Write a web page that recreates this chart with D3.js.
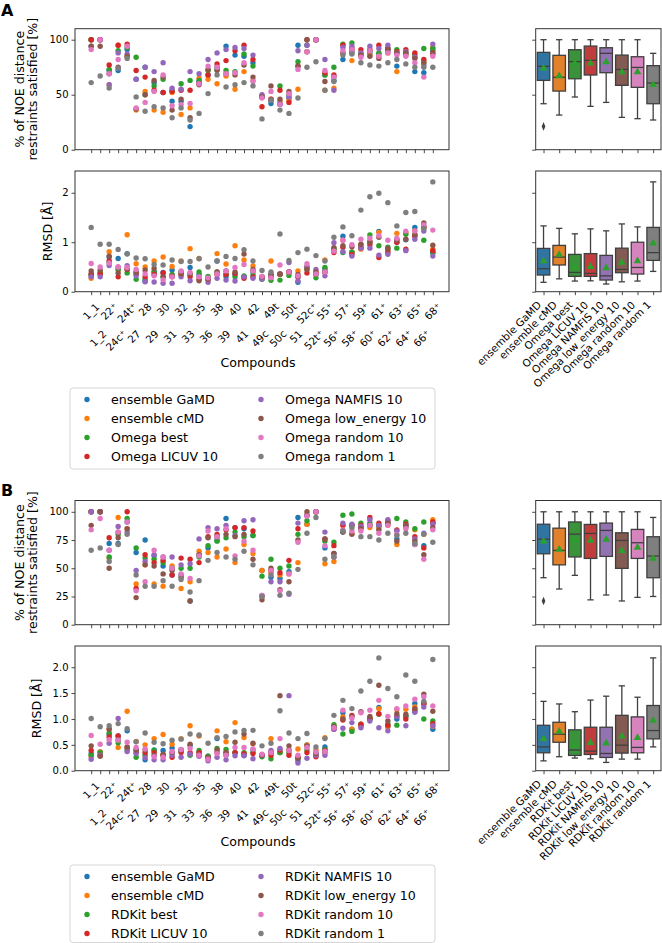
<!DOCTYPE html>
<html><head><meta charset="utf-8">
<script src="https://cdn.jsdelivr.net/npm/d3@7"></script>
<style>
body{margin:0;background:#fff}
svg text{font-family:"DejaVu Sans",sans-serif;fill:#000}
</style>
</head><body>
<svg id="c" width="662" height="943"></svg>
<script>
// ---------- categories ----------
const compounds = ["1_1","1_2","22⁺","24c⁺","24t⁺","27","28","29","30","31","32","33","35","36","38","39","40","41","42","49c","49t","50c","50t","51","52c⁺","52t⁺","55⁺","56⁺","57⁺","58⁺","59⁺","60⁺","61⁺","62⁺","63⁺","64⁺","65⁺","66⁺","68⁺"];
const methodsA = ["ensemble GaMD","ensemble cMD","Omega best","Omega LICUV 10","Omega NAMFIS 10","Omega low_energy 10","Omega random 10","Omega random 1"];
const methodsB = ["ensemble GaMD","ensemble cMD","RDKit best","RDKit LICUV 10","RDKit NAMFIS 10","RDKit low_energy 10","RDKit random 10","RDKit random 1"];
const pointColors = ["#1f77b4","#ff7f0e","#2ca02c","#d62728","#9467bd","#8c564b","#e377c2","#7f7f7f"];
const boxColors = ["#3274a1","#e1812c","#3a923a","#c03d3e","#9372b2","#845b53","#d684bd","#7f7f7f"];
const noeTicksA = [0,50,100];
const rmsdTicksA = [0,1,2];
const noeTicksB = [0,25,50,75,100];
const rmsdTicksB = [0,0.5,1.0,1.5,2.0];

// ---------- NOE satisfied [%] ----------
const noe_GaMD = [100,100,72,72,91,64,75,61,52,44,44,21,62,68,75,94,86,85,79,48,42,41,47,95,89,100,68,63,82,88,86,88,87,90,76,87,71,70,90];
const noe_cMD  = [100,100,59,95,85,36,53,36,34,52,32,38,65,64,60,67,55,71,63,48,46,44,45,55,89,100,54,56,88,81,86,86,85,88,71,86,84,80,93];
const noeA_best   = [100,100,73,90,93,84,50,58,64,54,60,63,63,72,73,72,71,87,76,49,45,58,50,80,95,100,68,75,96,97,88,90,88,92,91,88,86,92,92];
const noeA_LICUV  = [100,100,77,95,96,72,66,54,52,53,54,54,60,68,78,81,90,95,82,39,46,54,43,76,100,100,70,68,95,92,91,91,95,92,89,91,88,82,88];
const noeA_NAMFIS = [94,100,59,88,87,64,75,71,79,56,55,71,69,82,88,91,93,92,86,50,45,42,48,90,95,100,82,54,93,94,88,94,92,95,88,89,84,77,96];
const noeA_low    = [94,94,69,75,85,37,50,63,66,36,46,29,59,73,72,69,68,77,66,48,58,46,53,76,100,100,62,66,88,90,86,85,83,91,88,88,83,79,87];
const noeA_r10    = [91,100,69,82,94,38,43,53,68,40,41,42,60,76,75,69,70,79,62,47,53,41,51,73,89,100,72,66,90,91,84,90,85,88,86,85,79,66,85];
const noeA_r1     = [61,67,56,74,83,48,35,39,38,29,38,27,33,51,68,57,59,61,58,28,45,36,33,47,75,80,54,62,86,87,79,77,76,79,82,78,75,75,75];
const noeB_best   = [100,100,60,80,94,68,59,58,55,50,50,50,60,70,74,77,82,78,79,43,58,50,52,80,92,100,74,73,97,98,90,90,88,90,94,91,85,91,90];
const noeB_LICUV  = [100,100,77,82,100,32,62,55,57,44,59,58,55,78,80,84,86,86,83,25,48,46,57,85,97,100,76,70,88,88,88,95,90,92,84,89,78,68,91];
const noeB_NAMFIS = [100,100,66,87,82,48,56,62,60,60,53,54,76,86,85,88,79,92,93,26,38,38,27,90,97,100,82,60,90,89,87,93,88,93,83,88,76,81,89];
const noeB_low    = [88,100,50,77,85,24,53,52,45,48,42,21,62,77,78,80,78,80,58,22,50,31,38,75,100,100,76,63,82,80,85,88,84,90,74,88,74,62,86];
const noeB_r10    = [84,94,66,82,91,30,38,66,60,50,45,41,61,83,78,85,61,74,66,26,48,30,45,73,96,100,70,60,84,83,83,88,81,88,80,85,71,58,84];
const noeB_r1     = [66,68,56,71,80,44,34,34,39,34,40,29,39,57,64,60,58,65,53,25,44,26,28,49,81,95,58,60,83,86,78,78,75,81,79,81,72,80,73];

// ---------- RMSD [Å] ----------
const rmsd_GaMD = [0.33,0.36,0.70,0.67,0.77,0.40,0.21,0.40,0.39,0.44,0.40,0.49,0.35,0.28,0.62,0.30,0.35,0.30,0.40,0.30,0.35,0.35,0.40,0.19,0.50,0.35,0.46,0.85,1.12,0.80,0.88,1.01,1.22,0.85,1.00,1.05,1.30,1.30,0.80];
const rmsd_cMD  = [0.27,0.36,0.81,0.45,1.15,0.565,0.50,0.62,0.70,0.51,0.62,0.87,0.67,0.25,0.77,0.56,0.93,0.64,0.52,0.30,0.62,0.35,0.40,0.42,0.50,0.40,0.64,0.85,1.04,0.80,0.86,1.01,1.20,0.85,1.18,1.19,1.23,1.29,0.86];
const rmsdA_best   = [0.35,0.40,0.60,0.45,0.38,0.25,0.25,0.40,0.30,0.35,0.40,0.35,0.40,0.31,0.40,0.35,0.30,0.32,0.34,0.25,0.23,0.235,0.33,0.30,0.46,0.28,0.49,0.875,0.79,0.80,0.95,1.145,0.93,0.90,0.88,1.16,1.15,1.04,0.78];
const rmsdA_LICUV  = [0.36,0.36,0.62,0.30,0.45,0.35,0.30,0.35,0.38,0.30,0.35,0.30,0.25,0.25,0.35,0.35,0.37,0.27,0.30,0.28,0.30,0.36,0.40,0.30,0.38,0.36,0.40,0.79,0.90,0.755,0.90,0.95,0.69,0.80,1.00,0.86,1.12,1.32,0.83];
const rmsdA_NAMFIS = [0.30,0.30,0.53,0.50,0.525,0.32,0.20,0.195,0.17,0.17,0.30,0.22,0.30,0.19,0.27,0.235,0.215,0.30,0.27,0.255,0.30,0.36,0.59,0.215,0.50,0.45,0.32,0.99,0.81,0.72,0.88,0.88,0.74,0.755,1.05,0.83,1.06,1.225,0.72];
const rmsdA_low    = [0.42,0.44,0.72,0.38,0.46,0.39,0.44,0.47,0.30,0.32,0.36,0.36,0.22,0.25,0.40,0.42,0.40,0.76,0.45,0.30,0.35,0.36,0.40,0.35,0.45,0.40,0.40,0.89,0.93,0.91,0.96,1.00,1.10,0.875,1.05,1.06,1.15,1.39,0.94];
const rmsdA_r10    = [0.57,0.50,0.58,0.50,0.49,0.45,0.36,0.32,0.24,0.30,0.42,0.39,0.30,0.28,0.36,0.42,0.49,0.55,0.42,0.31,0.28,0.54,0.40,0.32,0.565,0.36,0.40,0.82,1.04,0.95,1.06,1.08,1.13,1.04,1.08,1.225,1.225,1.35,1.245];
const rmsdA_r1     = [1.30,0.96,0.96,0.855,0.76,0.68,0.667,0.55,0.54,0.64,0.61,0.61,0.667,0.50,0.62,0.714,0.67,0.85,0.62,0.43,0.40,1.165,0.63,0.79,0.86,0.73,0.62,1.10,1.31,1.13,1.65,1.92,1.99,1.80,1.33,1.60,1.62,1.28,2.22];
const rmsdB_best   = [0.30,0.35,0.73,0.54,0.40,0.26,0.30,0.39,0.30,0.35,0.38,0.30,0.39,0.28,0.43,0.41,0.35,0.35,0.35,0.27,0.23,0.35,0.35,0.25,0.40,0.30,0.41,0.89,0.71,0.76,0.90,1.00,1.09,0.90,0.88,1.05,1.15,1.00,0.96];
const rmsdB_LICUV  = [0.39,0.30,0.65,0.67,0.45,0.35,0.35,0.35,0.30,0.26,0.35,0.35,0.35,0.25,0.35,0.35,0.35,0.33,0.33,0.30,0.30,0.40,0.30,0.25,0.35,0.27,0.35,0.80,0.98,1.07,0.90,1.00,1.10,0.88,1.05,1.00,1.18,1.30,0.91];
const rmsdB_NAMFIS = [0.22,0.30,0.53,1.01,0.37,0.33,0.25,0.21,0.21,0.30,0.26,0.32,0.28,0.19,0.26,0.21,0.29,0.29,0.23,0.30,0.39,0.43,1.45,0.15,0.24,0.30,0.30,0.80,0.82,0.93,0.83,0.96,0.83,0.77,1.05,0.87,1.13,1.23,0.87];
const rmsdB_low    = [0.48,0.28,0.80,0.60,0.46,0.40,0.40,0.30,0.32,0.35,0.40,0.51,0.30,0.25,0.40,0.35,0.55,0.71,0.53,0.30,0.35,1.45,0.48,0.24,0.48,0.33,0.40,0.85,1.00,1.05,1.14,1.05,1.65,0.96,1.10,1.09,1.20,1.48,1.15];
const rmsdB_r10    = [0.68,0.51,0.60,0.59,0.55,0.45,0.42,0.27,0.26,0.37,0.41,0.43,0.30,0.22,0.33,0.30,0.45,0.45,0.42,0.32,0.35,0.62,0.39,0.30,0.45,0.36,0.37,0.83,1.17,1.02,1.12,1.17,1.36,1.05,1.20,1.25,1.38,1.43,1.25];
const rmsdB_r1     = [1.01,0.85,0.87,0.91,0.81,0.56,0.73,0.55,0.52,0.59,0.61,0.71,0.69,0.53,0.64,0.66,0.75,0.78,0.78,0.48,0.53,1.16,0.73,0.62,0.72,0.46,0.62,1.07,1.36,1.20,1.54,1.73,2.18,1.59,1.43,1.85,1.73,1.34,2.15];

// ---------- box statistics ----------
const boxNoeA_lo  = [41.8,31.5,47.9,39.4,43,29.4,28.2,27];
const boxNoeA_q1  = [63,53.3,64.5,67.9,70,58.5,56.7,41.8];
const boxNoeA_med = [75.8,65.8,80,81.2,87.6,73,74.8,60.6];
const boxNoeA_q3  = [88.5,85.8,90.9,94.2,92.7,86,84.5,76.4];
const boxNoeA_hi  = [100,100,100,100,100,100,100,87.6];
const boxNoeA_mean= [74,67,78.5,78.5,79.7,70.6,70.6,59];
const boxNoeA_out = [[21.2],[],[],[],[],[],[],[]];
const boxRmsdA_lo  = [0.19,0.26,0.215,0.22,0.155,0.2,0.215,0.41];
const boxRmsdA_q1  = [0.337,0.54,0.31,0.31,0.236,0.384,0.357,0.633];
const boxRmsdA_med = [0.465,0.70,0.39,0.37,0.32,0.45,0.49,0.79];
const boxRmsdA_q3  = [0.875,0.936,0.754,0.77,0.734,0.88,1.0,1.3];
const boxRmsdA_hi  = [1.33,1.28,1.17,1.27,1.23,1.37,1.31,2.22];
const boxRmsdA_mean= [0.62,0.75,0.5,0.505,0.478,0.59,0.62,0.98];
const boxNoeB_lo  = [41.6,31.6,43.7,22,26.3,21,24.2,25];
const boxNoeB_q1  = [62.8,53,60,58.7,60.5,49.9,58.7,41.6];
const boxNoeB_med = [75.8,65.8,80.2,80.8,83.5,74.6,72.6,60.8];
const boxNoeB_q3  = [89,85.5,91,88.8,90,81.4,84.4,77.9];
const boxNoeB_hi  = [100,100,100,100,100,100,100,95];
const boxNoeB_mean= [74,66.7,75,74.6,75.5,65.5,68.4,58.7];
const boxNoeB_out = [[21],[],[],[],[],[],[],[]];
const boxRmsdB_lo  = [0.19,0.27,0.244,0.23,0.16,0.224,0.224,0.46];
const boxRmsdB_q1  = [0.346,0.55,0.295,0.314,0.256,0.34,0.346,0.615];
const boxRmsdB_med = [0.46,0.705,0.40,0.378,0.333,0.494,0.45,0.776];
const boxRmsdB_q3  = [0.878,0.936,0.79,0.84,0.84,1.07,1.04,1.26];
const boxRmsdB_hi  = [1.34,1.29,1.14,1.365,1.44,1.64,1.42,2.18];
const boxRmsdB_mean= [0.615,0.756,0.5,0.54,0.53,0.667,0.635,0.968];

// ---------- drawing ----------
const svg = d3.select("#c");
const LINE = "#333";
const GRAYLINE = "#3f3f3f";
const SX = [75, 449];
const BX = [535.7, 661];
const x = d3.scaleLinear([-1.8, 39.8], SX);
const xb = d3.scaleBand(d3.range(8), BX);

function frame(g, x0, x1, y0, y1) {
  g.append("rect").attr("x", x0).attr("y", y0).attr("width", x1 - x0).attr("height", y1 - y0)
    .attr("fill", "none").attr("stroke", LINE).attr("stroke-width", 1);
}
function styleAxis(ax) {
  ax.select(".domain").remove();
  ax.selectAll(".tick line").attr("stroke", LINE).attr("stroke-width", 0.9);
  ax.selectAll(".tick text").attr("font-size", 10).attr("fill", "#000")
    .style("font-family", "DejaVu Sans, sans-serif");
}

function scatterPanel(y, ticks, fmt, series, showLabels, labelTop) {
  const [y1, y0] = y.range();
  const g = svg.append("g");
  const ay = g.append("g").attr("transform", `translate(${SX[0]},0)`)
    .call(d3.axisLeft(y).tickValues(ticks).tickFormat(fmt).tickSize(3.5).tickPadding(3));
  styleAxis(ay);
  const ax = g.append("g").attr("transform", `translate(0,${y1})`)
    .call(d3.axisBottom(x).tickValues(d3.range(compounds.length)).tickFormat("").tickSize(3.5));
  styleAxis(ax);
  series.forEach((vals, s) => {
    g.append("g").selectAll("circle").data(vals).join("circle")
      .attr("cx", (d, i) => x(i)).attr("cy", d => y(d)).attr("r", 2.7)
      .attr("fill", pointColors[s]);
  });
  frame(g, SX[0], SX[1], y0, y1);
  if (showLabels) {
    const lg = g.append("g");
    compounds.forEach((c, i) => {
      const odd = i % 2 === 1;
      const top = labelTop + (odd ? 27 : 0);
      const t = lg.append("text").attr("font-size", 10.3).attr("text-anchor", "middle").text(c);
      const L = t.node().getComputedTextLength();
      const h = 12;
      const half = (L + h) / (2 * Math.SQRT2);
      t.attr("transform", `translate(${x(i) - (odd ? 2 : 0)},${top + half}) rotate(-45)`).attr("dy", "0.35em");
    });
  }
  return g;
}

function boxPanel(y, ticks, st, labels, colorsB, labelY) {
  const [y1, y0] = y.range();
  const g = svg.append("g");
  const ay = g.append("g").attr("transform", `translate(${BX[0]},0)`)
    .call(d3.axisLeft(y).tickValues(ticks).tickFormat("").tickSize(3.5));
  styleAxis(ay);
  const ax = g.append("g").attr("transform", `translate(0,${y1})`)
    .call(d3.axisBottom(d3.scalePoint(d3.range(8), [xb(0) + xb.bandwidth()/2, xb(7) + xb.bandwidth()/2])).tickFormat("").tickSize(3.5));
  styleAxis(ax);
  const bw = xb.bandwidth() * 0.8;
  st.q1.forEach((q1, i) => {
    const cx = xb(i) + xb.bandwidth() / 2;
    const gg = g.append("g");
    gg.append("line").attr("x1", cx).attr("x2", cx).attr("y1", y(st.q3[i])).attr("y2", y(st.hi[i]))
      .attr("stroke", GRAYLINE).attr("stroke-width", 1.3);
    gg.append("line").attr("x1", cx).attr("x2", cx).attr("y1", y(q1)).attr("y2", y(st.lo[i]))
      .attr("stroke", GRAYLINE).attr("stroke-width", 1.3);
    [st.hi[i], st.lo[i]].forEach(v => gg.append("line")
      .attr("x1", cx - bw / 4).attr("x2", cx + bw / 4).attr("y1", y(v)).attr("y2", y(v))
      .attr("stroke", GRAYLINE).attr("stroke-width", 1.3));
    gg.append("rect").attr("x", cx - bw / 2).attr("width", bw)
      .attr("y", y(st.q3[i])).attr("height", y(q1) - y(st.q3[i]))
      .attr("fill", colorsB[i]).attr("stroke", GRAYLINE).attr("stroke-width", 1.3);
    gg.append("line").attr("x1", cx - bw / 2).attr("x2", cx + bw / 2)
      .attr("y1", y(st.med[i])).attr("y2", y(st.med[i])).attr("stroke", GRAYLINE).attr("stroke-width", 1.3);
    gg.append("path").attr("d", d3.symbol(d3.symbolTriangle, 26)())
      .attr("transform", `translate(${cx},${y(st.mean[i])})`).attr("fill", "#2ca02c");
    (st.out ? st.out[i] : []).forEach(v => {
      gg.append("path").attr("d", d3.symbol(d3.symbolDiamond, 18)())
        .attr("transform", `translate(${cx},${y(v)}) scale(0.8,1.1)`).attr("fill", GRAYLINE);
    });
  });
  frame(g, BX[0], BX[1], y0, y1);
  if (labels) {
    labels.forEach((lab, i) => {
      const cx = xb(i) + xb.bandwidth() / 2;
      g.append("text").attr("font-size", 10.4).attr("text-anchor", "end")
        .attr("transform", `translate(${cx - 1.5},${labelY}) rotate(-45)`).text(lab);
    });
  }
}

function legend(x0, y0, h, names) {
  const g = svg.append("g");
  g.append("rect").attr("x", x0).attr("y", y0).attr("width", 365).attr("height", h).attr("rx", 3)
    .attr("fill", "#fff").attr("stroke", "#d6d6d6").attr("stroke-width", 1);
  names.forEach((n, i) => {
    const col = Math.floor(i / 4), row = i % 4;
    const cx = x0 + 17 + col * 174, cy = y0 + 11.5 + row * 19;
    g.append("circle").attr("cx", cx).attr("cy", cy).attr("r", 2.7).attr("fill", pointColors[i]);
    g.append("text").attr("x", cx + 24).attr("y", cy).attr("dy", "0.36em").attr("font-size", 12.6).text(n);
  });
}

function ylabel(txt, cx, cy) {
  svg.append("text").attr("transform", `translate(${cx},${cy}) rotate(-90)`)
    .attr("text-anchor", "middle").attr("dy", "0.36em").attr("font-size", 12.6).text(txt);
}

function panel(letter, letterY, yNoe, noeTicks, yRmsd, rmsdTicks, rmsdFmt, noeSeries, rmsdSeries,
               boxNoe, boxRmsd, methods, legendY, legendH, rmsdLabelX) {
  svg.append("text").attr("x", 1).attr("y", letterY).attr("font-size", 16).attr("font-weight", "bold").text(letter);
  scatterPanel(yNoe, noeTicks, d3.format("d"), noeSeries, false);
  scatterPanel(yRmsd, rmsdTicks, rmsdFmt, rmsdSeries, true, yRmsd.range()[0] + 9);
  boxPanel(yNoe, noeTicks, boxNoe, null, boxColors);
  boxPanel(yRmsd, rmsdTicks, boxRmsd, methods, boxColors, yRmsd.range()[0] + 14);
  const nm = (yNoe.range()[0] + yNoe.range()[1]) / 2;
  ylabel("% of NOE distance", 19, nm);
  ylabel("restraints satisfied [%]", 32, nm);
  ylabel("RMSD [Å]", rmsdLabelX, (yRmsd.range()[0] + yRmsd.range()[1]) / 2);
  svg.append("text").attr("x", (SX[0] + SX[1]) / 2 - 4).attr("y", yRmsd.range()[0] + 70.5)
    .attr("text-anchor", "middle").attr("dy", "0.36em").attr("font-size", 12.6).text("Compounds");
  legend(70, legendY, legendH, methods);
}

// Panel A
const yNoeA = d3.scaleLinear([0, 110], [149.7, 28.7]);
const yRmsdA = d3.scaleLinear([0, 2.44], [291.7, 171]);
panel("A", 16, yNoeA, noeTicksA, yRmsdA, rmsdTicksA, d3.format("d"),
  [noe_GaMD, noe_cMD, noeA_best, noeA_LICUV, noeA_NAMFIS, noeA_low, noeA_r10, noeA_r1],
  [rmsd_GaMD, rmsd_cMD, rmsdA_best, rmsdA_LICUV, rmsdA_NAMFIS, rmsdA_low, rmsdA_r10, rmsdA_r1],
  {lo: boxNoeA_lo, q1: boxNoeA_q1, med: boxNoeA_med, q3: boxNoeA_q3, hi: boxNoeA_hi, mean: boxNoeA_mean, out: boxNoeA_out},
  {lo: boxRmsdA_lo, q1: boxRmsdA_q1, med: boxRmsdA_med, q3: boxRmsdA_q3, hi: boxRmsdA_hi, mean: boxRmsdA_mean},
  methodsA, 388, 81, 47);

// Panel B
const yNoeB = d3.scaleLinear([0, 110], [624.7, 500.5]);
const yRmsdB = d3.scaleLinear([0, 2.41], [770.7, 646]);
panel("B", 496, yNoeB, noeTicksB, yRmsdB, rmsdTicksB, d3.format(".1f"),
  [noe_GaMD, noe_cMD, noeB_best, noeB_LICUV, noeB_NAMFIS, noeB_low, noeB_r10, noeB_r1],
  [rmsd_GaMD, rmsd_cMD, rmsdB_best, rmsdB_LICUV, rmsdB_NAMFIS, rmsdB_low, rmsdB_r10, rmsdB_r1],
  {lo: boxNoeB_lo, q1: boxNoeB_q1, med: boxNoeB_med, q3: boxNoeB_q3, hi: boxNoeB_hi, mean: boxNoeB_mean, out: boxNoeB_out},
  {lo: boxRmsdB_lo, q1: boxRmsdB_q1, med: boxRmsdB_med, q3: boxRmsdB_q3, hi: boxRmsdB_hi, mean: boxRmsdB_mean},
  methodsB, 865, 77.5, 36);
</script>
</body></html>
